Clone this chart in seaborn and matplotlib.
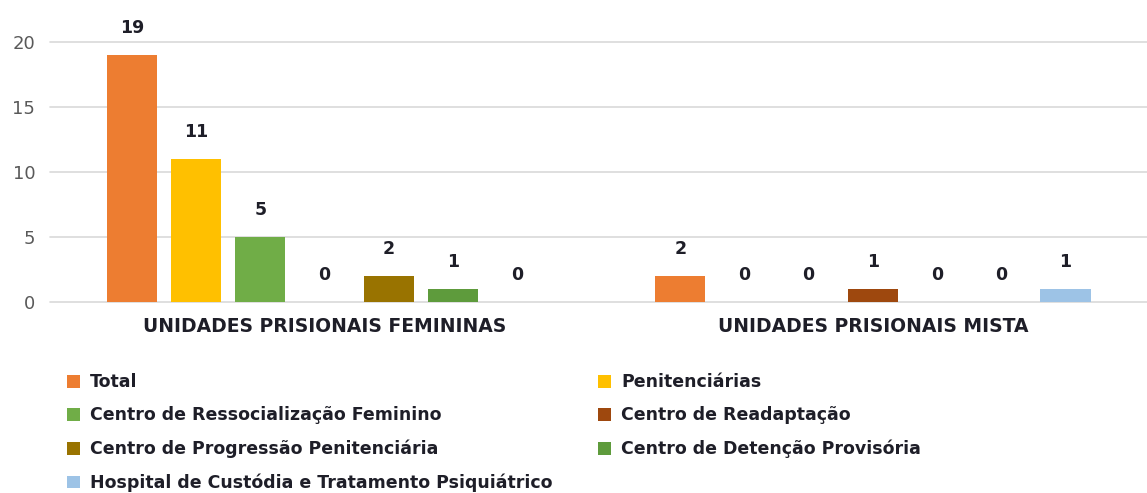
import pandas as pd
import matplotlib.pyplot as plt
import seaborn as sns
from matplotlib.patches import Patch

grupos = ["UNIDADES PRISIONAIS FEMININAS", "UNIDADES PRISIONAIS MISTA"]
series = [
    "Total",
    "Penitenciárias",
    "Centro de Ressocialização Feminino",
    "Centro de Readaptação",
    "Centro de Progressão Penitenciária",
    "Centro de Detenção Provisória",
    "Hospital de Custódia e Tratamento Psiquiátrico",
]
femininas = [19, 11, 5, 0, 2, 1, 0]
mista = [2, 0, 0, 1, 0, 0, 1]
cores = ["#ED7D31", "#FFC000", "#70AD47", "#9E480E", "#997300", "#5E9B3C", "#9DC3E6"]


def main():
    rows = []
    for g, vals in zip(grupos, [femininas, mista]):
        for s, v in zip(series, vals):
            rows.append({"grupo": g, "tipo": s, "valor": v})
    df = pd.DataFrame(rows)

    sns.set_style("white")
    plt.rcParams["font.family"] = ["DejaVu Sans"]
    texto = "#1E1E28"

    fig = plt.figure(figsize=(11.47, 4.93), dpi=100)
    ax = fig.add_axes([0.044, 0.387, 0.956, 0.528])

    sns.barplot(data=df, x="grupo", y="valor", hue="tipo", hue_order=series,
                palette=cores, width=0.82, gap=0.22, ax=ax, legend=False,
                saturation=1, linewidth=0)

    for c in ax.containers:
        ax.bar_label(c, padding=13, fontsize=12.5, color=texto, fontweight="bold")

    ax.set_ylim(0, 20)
    ax.set_xlim(-0.5, 1.5)
    ax.set_yticks([0, 5, 10, 15, 20])
    ax.yaxis.grid(True, color="#D9D9D9", linewidth=1.2)
    for gl in ax.get_ygridlines():
        gl.set_clip_on(False)
    ax.set_axisbelow(True)
    sns.despine(ax=ax, left=True, bottom=True)
    ax.tick_params(axis="y", length=0, labelsize=13, labelcolor="#595959", pad=11)
    ax.tick_params(axis="x", length=0, labelsize=13.5, labelcolor=texto, pad=11)
    for lbl in ax.get_xticklabels():
        lbl.set_fontweight("bold")
    ax.set_xlabel("")
    ax.set_ylabel("")

    # legenda em duas colunas, preenchida por linha
    ordem = [0, 2, 4, 6, 1, 3, 5]
    handles = [Patch(facecolor=cores[i], edgecolor="none") for i in ordem]
    labels = [series[i] for i in ordem]
    fig.legend(handles, labels, loc="upper left", bbox_to_anchor=(0.058, 0.243),
               ncol=2, frameon=False, handlelength=0.75,
               handleheight=0.75, handletextpad=0.6, columnspacing=2.6,
               labelspacing=0.88, borderaxespad=0, borderpad=0,
               prop={"size": 12.5, "weight": "bold"}, labelcolor=texto)

    plt.savefig("out.png", dpi=100)


if __name__ == "__main__":
    main()
